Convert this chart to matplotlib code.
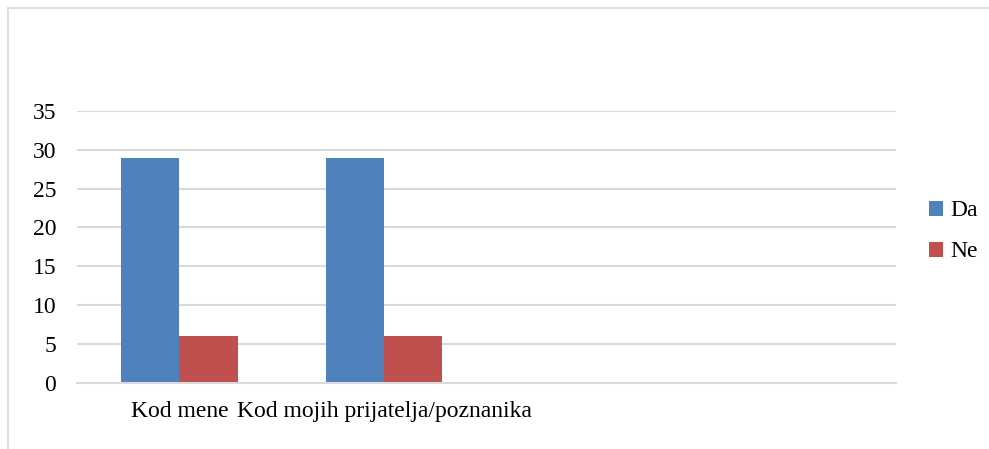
import matplotlib.pyplot as plt
import numpy as np
from matplotlib.lines import Line2D

# Data (last two category slots are empty)
categories = ['Kod mene', 'Kod mojih prijatelja/poznanika', '', '']
da_values = [29, 29, 0, 0]
ne_values = [6, 6, 0, 0]
series_names = ['Da', 'Ne']

blue = '#4f81bd'
red = '#c0504d'
grid_color = '#d9d9d9'

plt.rcParams['font.family'] = ['Liberation Serif', 'DejaVu Serif']

fig = plt.figure(figsize=(9.89, 4.49), dpi=100)
ax = fig.add_axes([77 / 989, 1 - 382.7 / 449, (896 - 77) / 989, (382.7 - 111) / 449])

x = np.arange(len(categories))
bar_w = 0.285
ax.bar(x - bar_w / 2, da_values, bar_w, color=blue, label=series_names[0])
ax.bar(x + bar_w / 2, ne_values, bar_w, color=red, label=series_names[1])

ax.set_xlim(-0.5, len(categories) - 0.5)
ax.set_ylim(0, 35)
ax.set_yticks(range(0, 36, 5))
ax.yaxis.grid(True, color=grid_color, linewidth=1.5)
ax.set_axisbelow(True)
for side in ['top', 'right', 'left']:
    ax.spines[side].set_visible(False)
ax.spines['bottom'].set_color(grid_color)
ax.spines['bottom'].set_linewidth(1.5)
ax.tick_params(axis='y', length=0, labelsize=17, pad=15)
ax.tick_params(axis='x', length=0, labelsize=17, pad=13)
ax.set_xticks(x)
ax.set_xticklabels(categories)

ax.legend(loc='center left', bbox_to_anchor=(1.014, 0.557), frameon=False,
          fontsize=17, handlelength=0.6, handleheight=0.6,
          labelspacing=0.85, handletextpad=0.3)

# chart border (top and left edges visible)
fig.add_artist(Line2D([8 / 989, 1.0], [1 - 8 / 449, 1 - 8 / 449],
                      color=grid_color, linewidth=1.2, transform=fig.transFigure))
fig.add_artist(Line2D([8 / 989, 8 / 989], [0, 1 - 8 / 449],
                      color=grid_color, linewidth=1.2, transform=fig.transFigure))

fig.savefig('out.png', dpi=100)
